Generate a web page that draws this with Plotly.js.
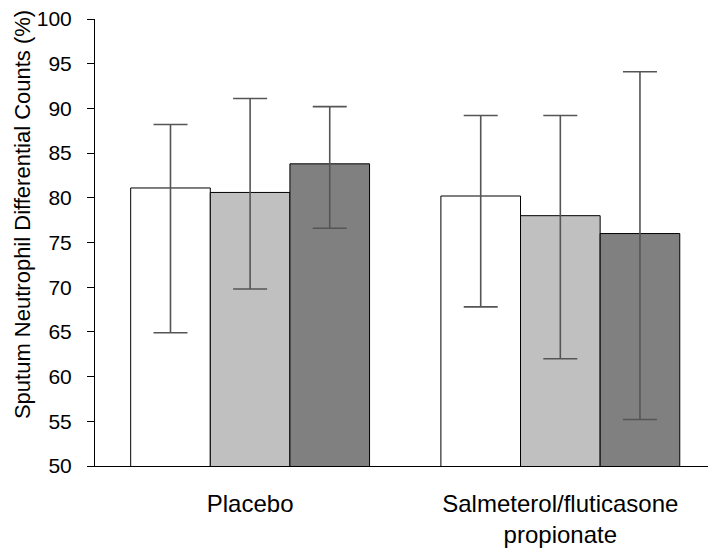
<!DOCTYPE html>
<html>
<head>
<meta charset="utf-8">
<script src="https://cdn.plot.ly/plotly-3.0.1.min.js"></script>
<style>html,body{margin:0;padding:0;background:#fff;}#chart{width:708px;height:555px;}</style>
</head>
<body>
<div id="chart"></div>
<script>
const categories = ['Placebo', 'Salmeterol/fluticasone<br>propionate'];
const seriesNames = ['Group 1', 'Group 2', 'Group 3'];
const meanA = [81.1, 80.2];
const highA = [88.2, 89.2];
const lowA  = [64.9, 67.8];
const meanB = [80.6, 78.0];
const highB = [91.1, 89.2];
const lowB  = [69.8, 62.0];
const meanC = [83.8, 76.0];
const highC = [90.2, 94.1];
const lowC  = [76.6, 55.2];
const yTickVals = [50, 55, 60, 65, 70, 75, 80, 85, 90, 95, 100];
const yTitle = 'Sputum Neutrophil Differential Counts (%)';

const fills = ['#ffffff', '#c0c0c0', '#808080'];
const means = [meanA, meanB, meanC];
const highs = [highA, highB, highC];
const lows = [lowA, lowB, lowC];

const traces = means.map((m, i) => ({
  type: 'bar',
  name: seriesNames[i],
  x: categories,
  y: m,
  marker: {color: fills[i], line: {color: '#000000', width: 1}},
  error_y: {
    type: 'data', symmetric: false,
    array: m.map((v, j) => highs[i][j] - v),
    arrayminus: m.map((v, j) => v - lows[i][j]),
    color: '#555555', thickness: 1.6, width: 17
  },
  hoverinfo: 'none'
}));

const font = 'Liberation Sans, Arial, sans-serif';
const layout = {
  width: 708, height: 555,
  margin: {l: 95, r: 0, t: 19, b: 89},
  paper_bgcolor: '#ffffff', plot_bgcolor: '#ffffff',
  barmode: 'group', bargap: 0.23, bargroupgap: 0,
  showlegend: false,
  xaxis: {
    type: 'category', range: [-0.5, 1.476],
    showline: true, linecolor: '#000000', linewidth: 1,
    ticks: '', showgrid: false, zeroline: false,
    tickfont: {family: font, size: 24, color: '#000000'},
    ticklabelstandoff: 16
  },
  yaxis: {
    range: [50, 100], tickvals: yTickVals,
    showline: true, linecolor: '#000000', linewidth: 1,
    ticks: 'outside', ticklen: 7, tickcolor: '#000000', tickwidth: 1,
    showgrid: false, zeroline: false,
    tickfont: {family: font, size: 21, color: '#000000'},
    ticklabelstandoff: 11
  },
  annotations: [{
    text: yTitle, textangle: -90,
    xref: 'paper', yref: 'paper', x: -0.117, y: 0.562,
    xanchor: 'center', yanchor: 'middle', showarrow: false,
    font: {family: font, size: 22, color: '#000000'}
  }]
};

Plotly.newPlot('chart', traces, layout, {displayModeBar: false, staticPlot: true});
</script>
</body>
</html>
